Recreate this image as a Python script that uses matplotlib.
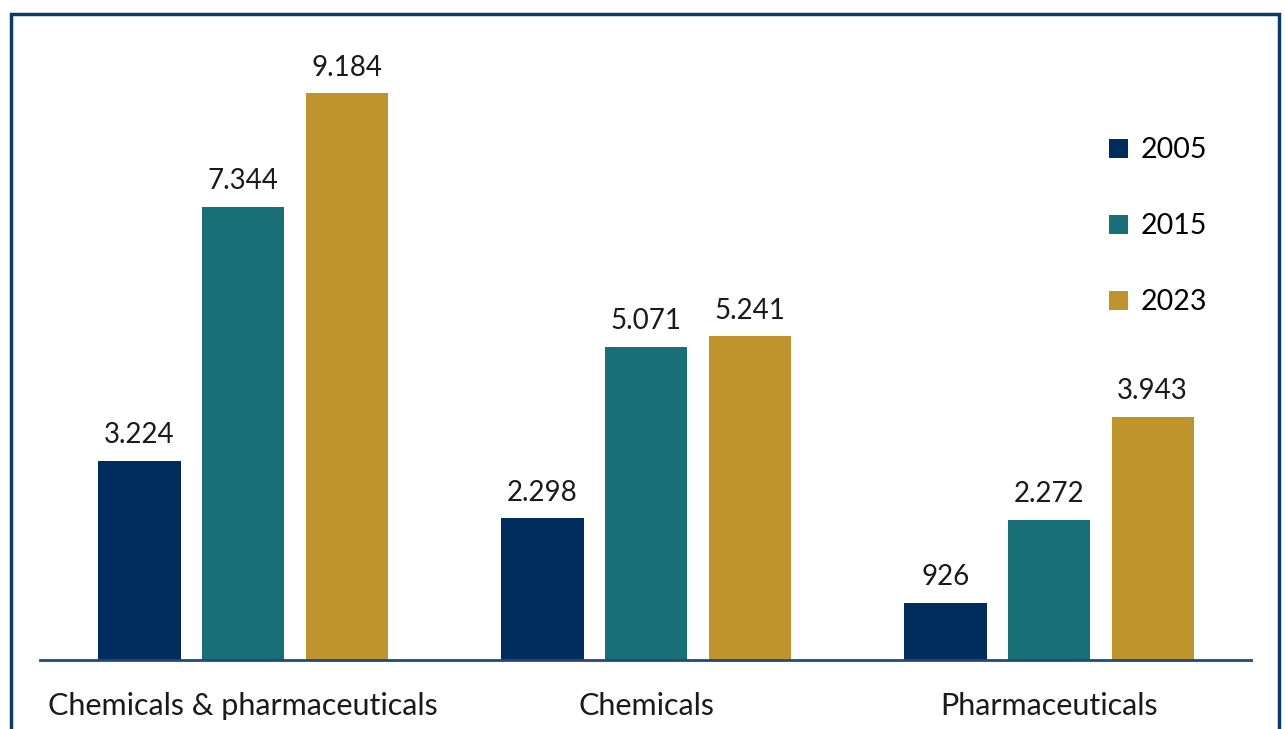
import matplotlib.pyplot as plt
from matplotlib.patches import Rectangle
import numpy as np

# Daten
categories = ["Chemicals & pharmaceuticals", "Chemicals", "Pharmaceuticals"]
years = ["2005", "2015", "2023"]
values_2005 = [3224, 2298, 926]
values_2015 = [7344, 5071, 2272]
values_2023 = [9184, 5241, 3943]
colors = ["#002d5e", "#186f77", "#bf942c"]

plt.rcParams['font.family'] = ['Lato', 'DejaVu Sans']

fig = plt.figure(figsize=(12.85, 7.29), dpi=100)
ax = fig.add_axes([40 / 1285, 1 - 660 / 729, (1251 - 40) / 1285, (660 - 14) / 729])

x = np.arange(len(categories))
step = 0.257
width = 0.204

for i, (vals, year) in enumerate(zip([values_2005, values_2015, values_2023], years)):
    bars = ax.bar(x + (i - 1) * step, vals, width=width, color=colors[i], label=year)
    for b, v in zip(bars, vals):
        label = f"{v:,}".replace(",", ".")
        ax.annotate(label, (b.get_x() + b.get_width() / 2, b.get_height()),
                    xytext=(0, 9), textcoords="offset points",
                    ha="center", va="bottom", fontsize=20, color="#1a1a1a")

ax.set_xlim(-0.504, 2.501)
ax.set_ylim(0, 9184 * 646 / 567)

for s in ["top", "right", "left"]:
    ax.spines[s].set_visible(False)
ax.spines["bottom"].set_color("#1f4a7a")
ax.spines["bottom"].set_linewidth(2)
ax.set_yticks([])
ax.set_xticks(x)
ax.set_xticklabels(categories, fontsize=22, color="#1a1a1a")
ax.tick_params(axis="x", length=0, pad=23)

leg = ax.legend(loc="upper right", bbox_to_anchor=(0.9755, 0.831), frameon=False,
                fontsize=20.5, handlelength=0.65, handleheight=0.65,
                labelspacing=1.75, handletextpad=0.45, borderpad=0)

# Rahmen um die Grafik
fig.patches.append(Rectangle((11 / 1285, -0.05), (1279 - 11) / 1285, 1.05 - 14 / 729,
                             transform=fig.transFigure, fill=False,
                             edgecolor="#0a3a6e", linewidth=2.5, clip_on=False))

fig.savefig("out.png", dpi=100)
